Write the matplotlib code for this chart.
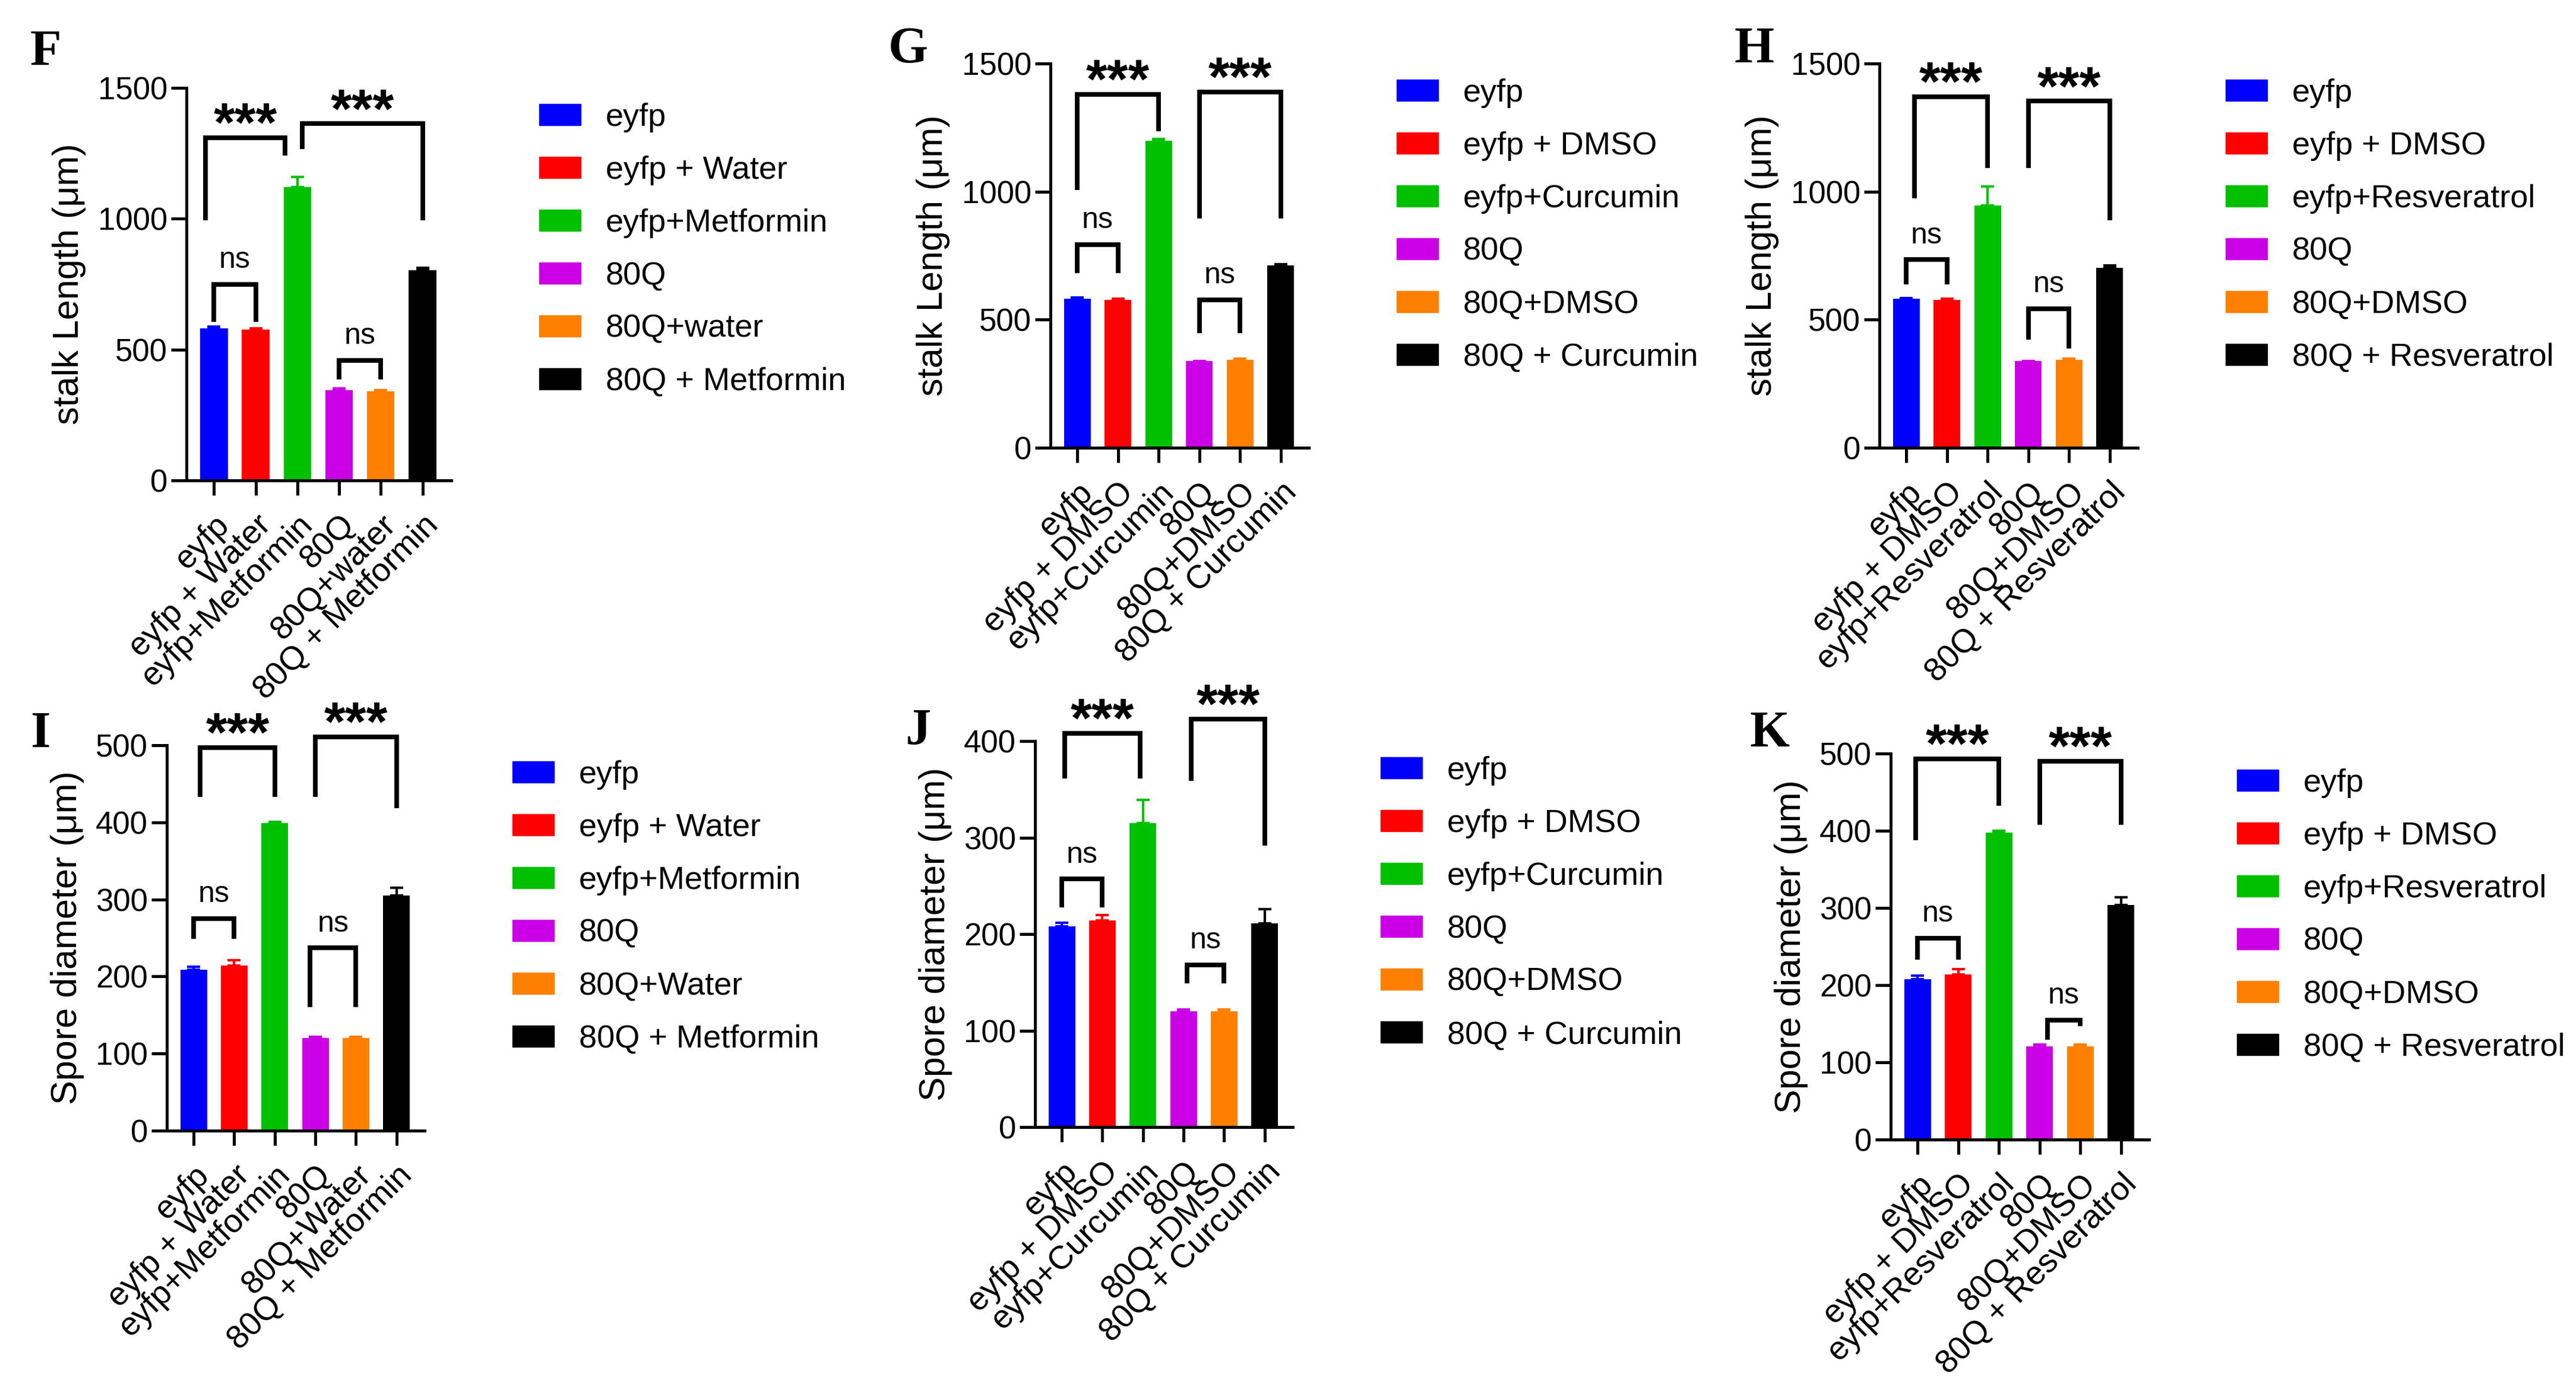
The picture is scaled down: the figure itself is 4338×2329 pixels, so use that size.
import matplotlib.pyplot as plt
from matplotlib.patches import Rectangle

plt.rcParams['font.family'] = ['Liberation Sans', 'DejaVu Sans']

W, H = 4338, 2329

colors = ['#0000FF', '#FF0000', '#00C000', '#CC00E6', '#FF8000', '#000000']

labels_met = ['eyfp', 'eyfp + Water', 'eyfp+Metformin', '80Q', '80Q+water', '80Q + Metformin']
labels_met_i = ['eyfp', 'eyfp + Water', 'eyfp+Metformin', '80Q', '80Q+Water', '80Q + Metformin']
labels_cur = ['eyfp', 'eyfp + DMSO', 'eyfp+Curcumin', '80Q', '80Q+DMSO', '80Q + Curcumin']
labels_res = ['eyfp', 'eyfp + DMSO', 'eyfp+Resveratrol', '80Q', '80Q+DMSO', '80Q + Resveratrol']

# stalk length (um)
stalk_met = [581, 577, 1122, 344, 340, 804]
stalk_met_err = [6, 5, 38, 8, 5, 9]
stalk_cur = [583, 577, 1198, 338, 343, 711]
stalk_cur_err = [4, 4, 7, 0, 4, 5]
stalk_res = [581, 577, 947, 338, 343, 702]
stalk_res_err = [4, 4, 73, 0, 4, 9]

# spore diameter (um)
spore_met = [209, 214, 399, 120, 120, 305]
spore_met_err = [4, 7, 2, 2, 2, 10]
spore_cur = [208, 214, 315, 120, 120, 211]
spore_cur_err = [4, 6, 24, 2, 2, 15]
spore_res = [208, 214, 398, 121, 121, 304]
spore_res_err = [4, 7, 2, 2, 2, 10]

# significance brackets: x left, x right, bar height, left leg end, right leg end, text
brackets_f = [(0, 1, 750, 606, 606, 'ns'), (-0.2, 1.7, 1309, 995, 1241, '***'),
              (2.12, 5, 1363, 1266, 995, '***'), (3, 4, 459, 386, 386, 'ns')]
brackets_g = [(0, 1, 794, 681, 681, 'ns'), (0, 2, 1379, 1006, 1236, '***'),
              (3, 5, 1389, 895, 895, '***'), (3, 4, 577, 447, 447, 'ns')]
brackets_h = [(0, 1, 734, 638, 638, 'ns'), (0.2, 2, 1370, 973, 1092, '***'),
              (3, 5, 1353, 1092, 889, '***'), (3, 4, 543, 421, 387, 'ns')]
brackets_i = [(0, 1, 275, 249, 249, 'ns'), (0.16, 2, 497, 433, 433, '***'),
              (3, 5, 511, 433, 418, '***'), (2.87, 4, 237, 160, 160, 'ns')]
brackets_j = [(0, 1, 257, 228, 228, 'ns'), (0.07, 1.93, 408, 361, 361, '***'),
              (3.19, 5, 423, 359, 292, '***'), (3.08, 4, 168, 149, 149, 'ns')]
brackets_k = [(0, 1, 261, 233, 233, 'ns'), (-0.05, 2, 493, 388, 432, '***'),
              (3, 5, 490, 408, 408, '***'), (3.19, 4, 155, 129, 147, 'ns')]

fig = plt.figure(figsize=(W / 100, H / 100), dpi=100)


def fx(px):
    return px / W


def fy(py):
    return 1 - py / H


def draw_legend(right, top, labels):
    for i, lab in enumerate(labels):
        cy = top + 45 + i * 89
        x0 = right + 148
        fig.add_artist(Rectangle((fx(x0), fy(cy + 18)), 70 / W, 36 / H,
                                 transform=fig.transFigure, color=colors[i]))
        fig.text(fx(x0 + 112), fy(cy + 19), lab, fontsize=39, va='baseline', ha='left')


def draw_panel(letter, box, letter_xy, labels, values, errs, ylabel, ymax, ystep, brackets):
    left, top, right, bottom = box
    ax = fig.add_axes([fx(left), fy(bottom), (right - left) / W, (bottom - top) / H])
    x = list(range(len(values)))
    ax.bar(x, values, width=0.66, color=colors, zorder=2)
    for i in x:
        ax.errorbar(i, values[i], yerr=[[0], [errs[i]]], color=colors[i],
                    elinewidth=3, capsize=8, capthick=3, zorder=1)
    ax.set_xlim(-0.66, 5.69)
    ax.set_ylim(0, ymax)
    ax.set_yticks(range(0, ymax + 1, ystep))
    ax.set_xticks(x)
    ax.set_xticklabels(labels, rotation=45, ha='right', va='top', rotation_mode='anchor')
    for s in ['top', 'right']:
        ax.spines[s].set_visible(False)
    for s in ['left', 'bottom']:
        ax.spines[s].set_linewidth(3.6)
    ax.tick_params(axis='y', length=19, width=3.6, pad=4, labelsize=38)
    ax.tick_params(axis='x', length=18, width=3.6, pad=17, labelsize=40)
    ax.set_ylabel(ylabel, fontsize=44, labelpad=14)

    for x1, x2, yb, y1, y2, text in brackets:
        ax.plot([x1, x1, x2, x2], [y1, yb, yb, y2], color='black', lw=5.6,
                clip_on=False, solid_joinstyle='miter', solid_capstyle='butt')
        if text == 'ns':
            ax.annotate(text, ((x1 + x2) / 2, yb), xytext=(0, 20), textcoords='offset points',
                        ha='center', va='baseline', fontsize=36, annotation_clip=False)
        else:
            ax.annotate(text, ((x1 + x2) / 2, yb), xytext=(0, -4), textcoords='offset points',
                        ha='center', va='baseline', fontsize=66, weight='bold',
                        annotation_clip=False)

    fig.text(fx(letter_xy[0]), fy(letter_xy[1]), letter, family=['Liberation Serif'],
             weight='bold', fontsize=62, ha='left', va='baseline')
    draw_legend(right, top, labels)
    return ax


draw_panel('F', (314, 148, 760, 809), (51, 110), labels_met, stalk_met, stalk_met_err,
           'stalk Length (μm)', 1500, 500, brackets_f)
draw_panel('G', (1769, 107, 2204, 754), (1496, 105), labels_cur, stalk_cur, stalk_cur_err,
           'stalk Length (μm)', 1500, 500, brackets_g)
draw_panel('H', (3165, 107, 3600, 754), (2920, 105), labels_res, stalk_res, stalk_res_err,
           'stalk Length (μm)', 1500, 500, brackets_h)
draw_panel('I', (281, 1255, 715, 1904), (51, 1258), labels_met_i, spore_met, spore_met_err,
           'Spore diameter (μm)', 500, 100, brackets_i)
draw_panel('J', (1743, 1248, 2177, 1898), (1524, 1253), labels_cur, spore_cur, spore_cur_err,
           'Spore diameter (μm)', 400, 100, brackets_j)
draw_panel('K', (3184, 1269, 3619, 1919), (2946, 1257), labels_res, spore_res, spore_res_err,
           'Spore diameter (μm)', 500, 100, brackets_k)

fig.savefig('out.png', dpi=100)
